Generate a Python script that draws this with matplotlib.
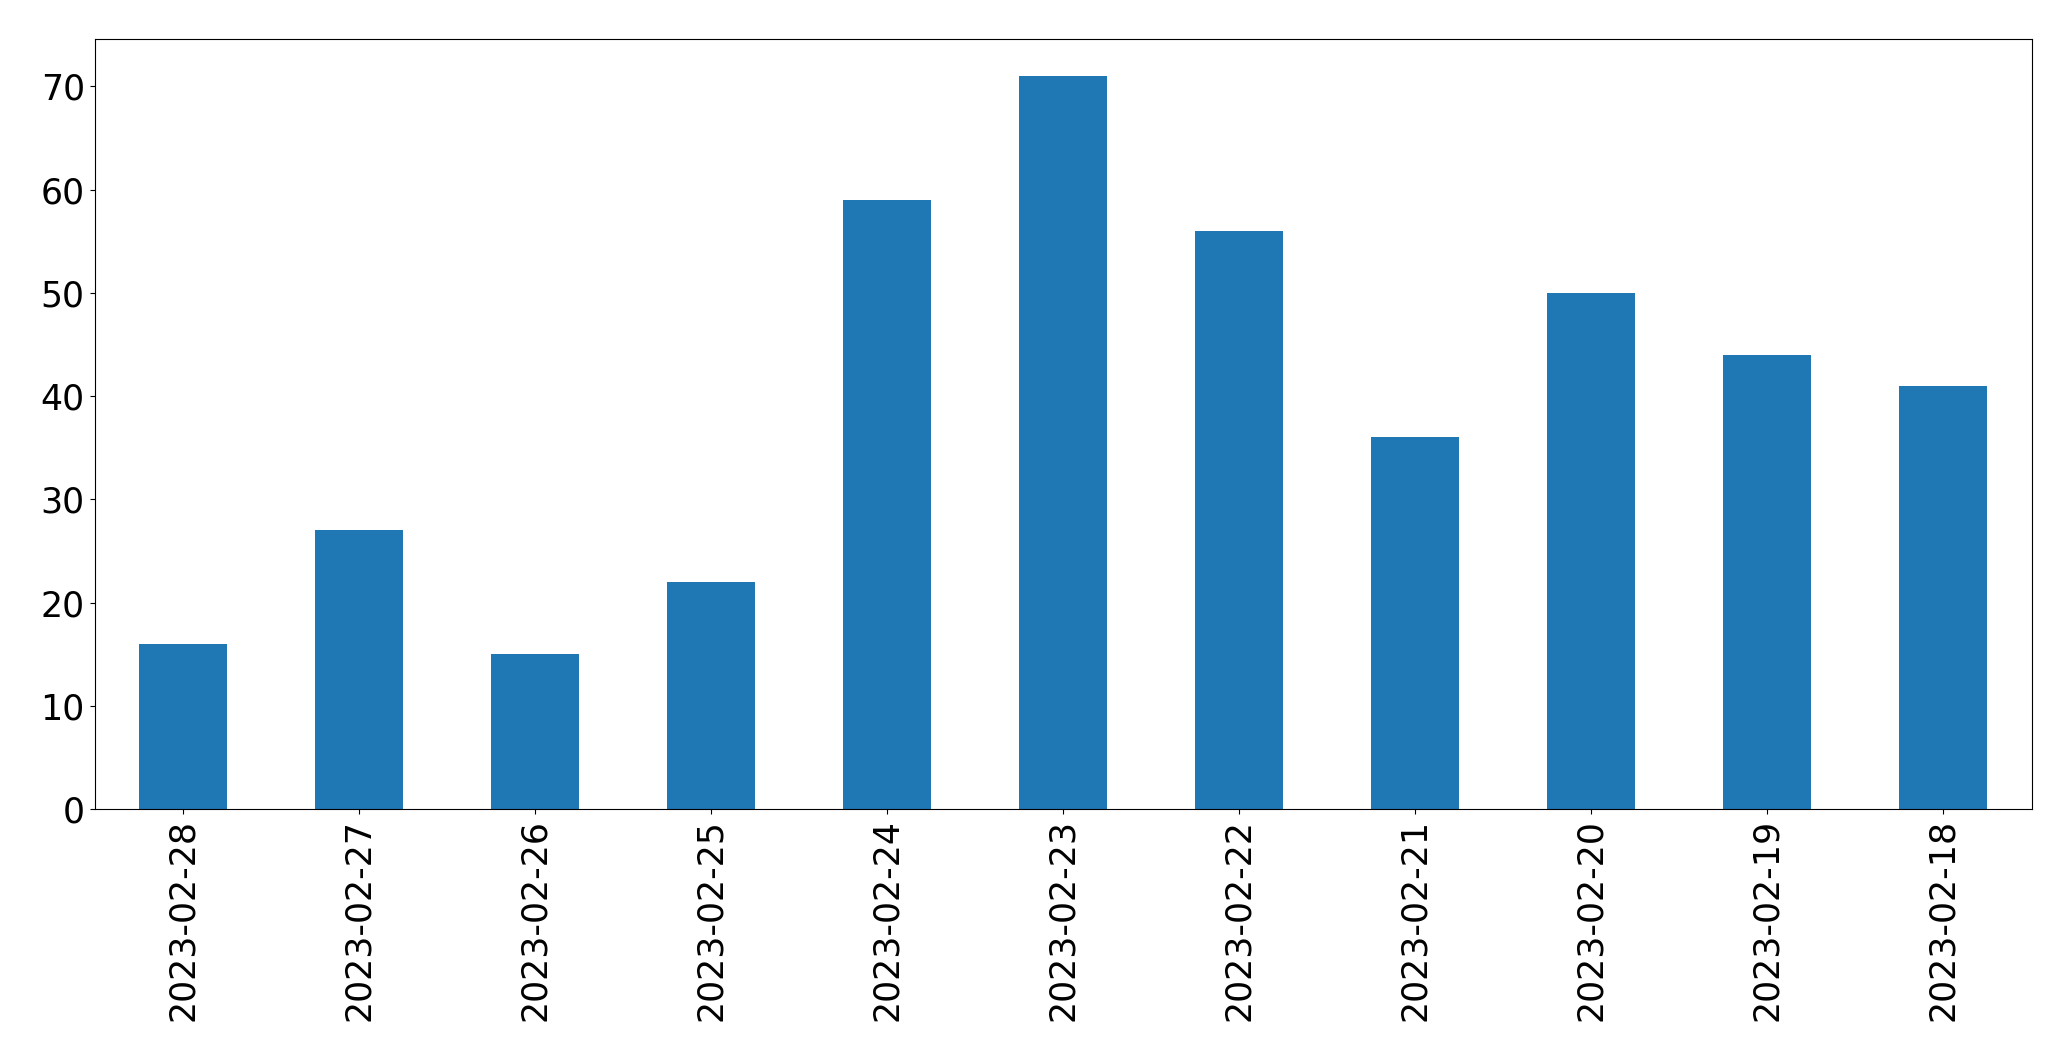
#!/usr/bin/env python3

import numpy as np
import matplotlib as mpl
mpl.use("Agg")
import matplotlib.pyplot as plt

# Data

dates = ["2023-02-28", "2023-02-27", "2023-02-26", "2023-02-25", "2023-02-24",
         "2023-02-23", "2023-02-22", "2023-02-21", "2023-02-20", "2023-02-19",
         "2023-02-18"]
counts = [16, 27, 15, 22, 59, 71, 56, 36, 50, 44, 41]

# Plot

fig = plt.figure(figsize = (20.71, 10.61), dpi = 100)
ax = fig.add_axes([94.5/2071, 1 - 809.3/1061, (2031.5 - 94.5)/2071, (809.3 - 39.3)/1061])

x = np.arange(len(dates))
ax.bar(x, counts, width = 0.5, color = '#1f77b4')

ax.set_xlim(-0.5, len(dates) - 0.5)
ax.set_ylim(0, max(counts)*1.05)
ax.set_xticks(x)
ax.set_xticklabels(dates, rotation = 90)
ax.set_yticks(np.arange(0, 80, 10))

ax.tick_params(axis = 'both', labelsize = 25)

fig.savefig("out.png", dpi = 100)
